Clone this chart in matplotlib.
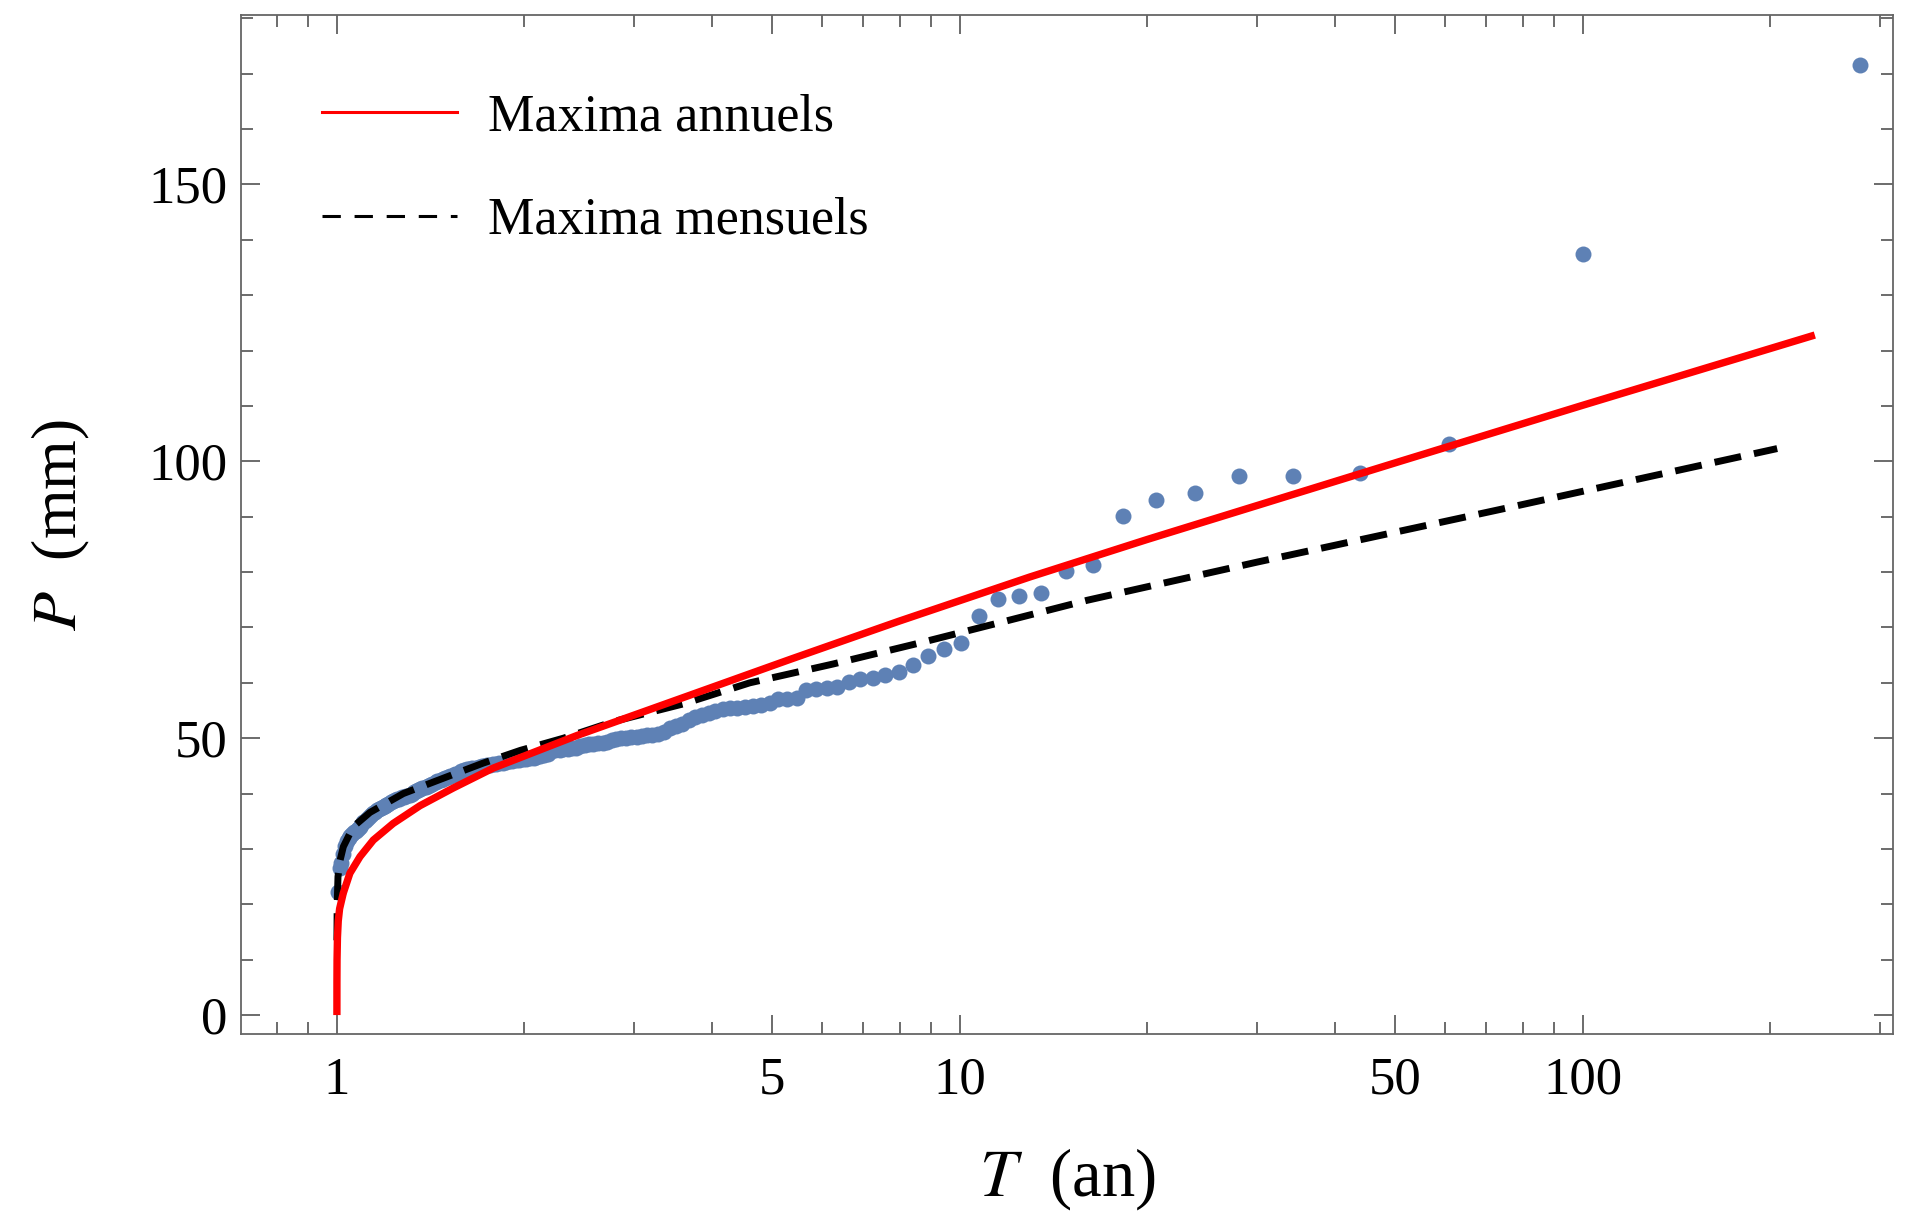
import matplotlib
matplotlib.use("Agg")
import matplotlib.pyplot as plt
from matplotlib.lines import Line2D
from matplotlib.ticker import FixedLocator, FixedFormatter, NullFormatter

plt.rcParams['font.family'] = ['Liberation Serif', 'DejaVu Serif']
plt.rcParams['mathtext.fontset'] = 'stix'

# ── data ─────────────────────────────────────────────────────────────────────

# observed maxima, rank 1..156 (return period T in years, precipitation P in mm)
obs_T = [278.8, 100.08, 60.98, 43.85, 34.24, 28.08, 23.80, 20.65, 18.24, 16.33,
         14.78, 13.51, 12.43, 11.51, 10.72, 10.03, 9.43, 8.89, 8.41, 7.98,
         7.59, 7.24, 6.92, 6.63, 6.36, 6.11, 5.88, 5.66, 5.47, 5.28,
         5.11, 4.95, 4.79, 4.65, 4.52, 4.39, 4.27, 4.16, 4.05, 3.95,
         3.85, 3.76, 3.67, 3.58, 3.50, 3.43, 3.35, 3.28, 3.21, 3.15,
         3.09, 3.03, 2.97, 2.91, 2.86, 2.81, 2.76, 2.71, 2.67, 2.62,
         2.58, 2.54, 2.50, 2.46, 2.42, 2.38, 2.35, 2.31, 2.28, 2.24,
         2.21, 2.18, 2.15, 2.12, 2.09, 2.07, 2.04, 2.01, 1.99, 1.96,
         1.94, 1.91, 1.89, 1.87, 1.85, 1.82, 1.80, 1.78, 1.76, 1.74,
         1.72, 1.71, 1.69, 1.67, 1.65, 1.63, 1.62, 1.60, 1.58, 1.57,
         1.55, 1.54, 1.52, 1.51, 1.49, 1.48, 1.47, 1.45, 1.44, 1.42,
         1.41, 1.40, 1.39, 1.37, 1.36, 1.35, 1.34, 1.33, 1.32, 1.31,
         1.29, 1.28, 1.27, 1.26, 1.25, 1.24, 1.23, 1.22, 1.21, 1.20,
         1.196, 1.187, 1.178, 1.169, 1.160, 1.152, 1.143, 1.135, 1.127, 1.119,
         1.111, 1.103, 1.095, 1.088, 1.080, 1.073, 1.065, 1.058, 1.051, 1.044,
         1.037, 1.030, 1.023, 1.017, 1.010, 1.004]
obs_P = [171.6, 137.4, 103.2, 97.9, 97.3, 97.3, 94.2, 93.1, 90.2, 81.2,
         80.2, 76.3, 75.7, 75.1, 72.1, 67.1, 66.1, 64.8, 63.3, 62.0,
         61.5, 60.8, 60.6, 60.2, 59.3, 59.1, 58.8, 58.7, 57.3, 57.0,
         57.0, 56.4, 56.0, 55.8, 55.7, 55.5, 55.4, 55.2, 54.9, 54.6,
         54.2, 53.8, 53.2, 52.6, 52.2, 51.8, 51.2, 50.8, 50.6, 50.5,
         50.4, 50.3, 50.2, 50.1, 50.0, 49.8, 49.6, 49.4, 49.2, 49.1,
         49.0, 48.9, 48.7, 48.5, 48.3, 48.2, 48.1, 48.0, 47.9, 47.8,
         47.6, 47.2, 46.9, 46.7, 46.6, 46.5, 46.4, 46.3, 46.2, 46.1,
         46.0, 45.9, 45.8, 45.7, 45.6, 45.5, 45.4, 45.3, 45.2, 45.1,
         45.0, 44.9, 44.8, 44.7, 44.6, 44.5, 44.4, 44.2, 44.0, 43.8,
         43.6, 43.4, 43.2, 43.0, 42.8, 42.6, 42.4, 42.2, 42.0, 41.8,
         41.6, 41.4, 41.2, 41.0, 40.8, 40.6, 40.4, 40.2, 40.0, 39.8,
         39.6, 39.4, 39.3, 39.1, 39.0, 38.8, 38.6, 38.4, 38.2, 38.0,
         37.8, 37.6, 37.4, 37.2, 37.0, 36.7, 36.4, 36.1, 35.8, 35.4,
         35.1, 34.8, 34.4, 34.0, 33.6, 33.3, 33.0, 32.7, 32.3, 32.0,
         31.5, 30.5, 29.0, 27.5, 26.5, 22.3]

# fitted curve, annual maxima
annual_T = [1.0, 1.0001, 1.0005, 1.002, 1.005, 1.01, 1.0237, 1.049, 1.089, 1.144,
            1.231, 1.359, 1.537, 1.782, 2.43, 3.61, 5.36, 7.97, 12.94, 20.0,
            50.9, 99.8, 235.6]
annual_P = [0.0, 6.0, 10.0, 14.0, 17.0, 19.2, 22.0, 25.6, 28.6, 31.6,
            34.6, 37.8, 41.0, 44.6, 50.5, 57.4, 64.3, 71.1, 79.1, 85.9,
            100.0, 110.1, 122.8]

# fitted curve, monthly maxima
monthly_T = [1.0, 1.001, 1.004, 1.012, 1.024, 1.062, 1.13, 1.278, 1.50, 1.717,
             1.97, 2.31, 2.78, 3.60, 4.60, 6.26, 8.62, 11.9, 16.0, 30.0,
             73.6, 205.0]
monthly_P = [13.5, 20.0, 25.0, 28.0, 30.4, 34.0, 36.6, 40.0, 43.0, 45.5,
             47.8, 50.0, 53.0, 56.2, 60.0, 63.4, 67.2, 71.2, 74.9, 81.8,
             91.3, 102.3]

labels = ["Maxima annuels", "Maxima mensuels"]
x_major = [1, 5, 10, 50, 100]
x_minor = [0.8, 0.9, 2, 3, 4, 6, 7, 8, 9, 20, 30, 40, 60, 70, 80, 90, 200, 300]
y_major = [0, 50, 100, 150]
y_minor = [10, 20, 30, 40, 60, 70, 80, 90, 110, 120, 130, 140, 160, 170, 180]

# ── plot ─────────────────────────────────────────────────────────────────────

fig = plt.figure(figsize=(19.15, 12.17), dpi=100)
ax = fig.add_axes([0.1258, 0.1500, 0.8627, 0.8377])

ax.plot(obs_T, obs_P, 'o', color='#5e81b5', ms=11.5, mec='none', zorder=2)
ax.plot(monthly_T, monthly_P, color='black', lw=5.0, dashes=(3.9, 1.9),
        dash_capstyle='butt', zorder=3)
ax.plot(annual_T, annual_P, color='#ff0000', lw=5.3, solid_capstyle='butt', zorder=4)

ax.set_xscale('log')
ax.set_xlim(0.7013, 314.5)
ax.set_ylim(-3.5, 180.6)

ax.xaxis.set_major_locator(FixedLocator(x_major))
ax.xaxis.set_major_formatter(FixedFormatter([str(v) for v in x_major]))
ax.xaxis.set_minor_locator(FixedLocator(x_minor))
ax.xaxis.set_minor_formatter(NullFormatter())
ax.yaxis.set_major_locator(FixedLocator(y_major))
ax.yaxis.set_minor_locator(FixedLocator(y_minor))

ax.tick_params(which='both', direction='in', top=True, right=True,
               color='#444444', width=1.1, labelsize=38)
ax.tick_params(which='major', length=14)
ax.tick_params(which='minor', length=8.5)
ax.tick_params(axis='x', which='major', pad=16)
ax.tick_params(axis='y', which='major', pad=10)
for sp in ax.spines.values():
    sp.set_color('#666666')
    sp.set_linewidth(1.3)

ax.set_xlabel(r"$T$  (an)", fontsize=48, labelpad=30)
ax.set_ylabel(r"$P$  (mm)", fontsize=46, labelpad=40)

handles = [Line2D([], [], color='#ff0000', lw=2.2),
           Line2D([], [], color='black', lw=2.2, dashes=(6, 4.5))]
ax.legend(handles, labels, loc='upper left', bbox_to_anchor=(0.0493, 0.9228),
          frameon=False, fontsize=37.5, borderpad=0, borderaxespad=0,
          handlelength=2.58, handletextpad=0.61, labelspacing=1.06)

fig.savefig("out.png", dpi=100)
